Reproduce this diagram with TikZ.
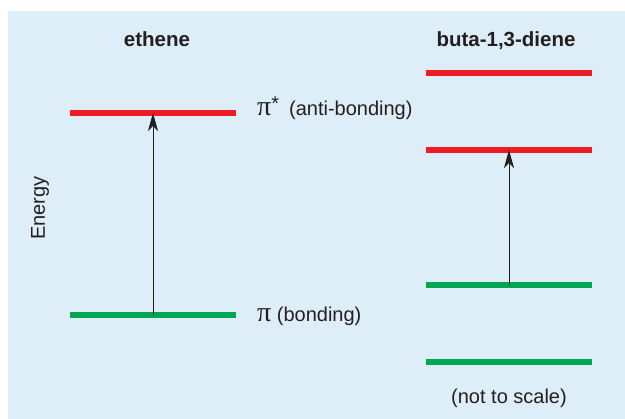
\documentclass[tikz,border=0pt]{standalone}
\usepackage{fontspec}
\setmainfont{Liberation Sans}
\newfontfamily\pifont{Liberation Serif}
\usepackage{tikz}
\usetikzlibrary{arrows.meta, positioning}

\definecolor{panel}{RGB}{222,238,248}
\definecolor{levred}{RGB}{237,28,36}
\definecolor{levgreen}{RGB}{0,166,81}
\definecolor{ink}{RGB}{35,31,32}

\newcommand{\bigpi}{{\pifont\fontsize{28}{28}\selectfont π}}

\tikzset{
  orbital/.style={minimum width=166pt, minimum height=5.5pt, inner sep=0pt, outer sep=0pt},
  label text/.style={text=ink, inner sep=0pt, font=\fontsize{20}{24}\selectfont},
  title text/.style={label text, font=\fontsize{20.5}{24}\selectfont\bfseries, anchor=base},
  excite/.style={draw=ink, line width=0.8pt, -{Stealth[length=18pt, width=10pt, inset=5pt]}}
}

\begin{document}
\begin{tikzpicture}[x=1pt, y=1pt]
    \useasboundingbox (0,0) rectangle (625,419);
    \fill[panel] (8,0) rectangle (625,408);
    % ethene
    \node[title text] (ethene) at (157,372) {ethene};
    \node[orbital, fill=levred] (pistar) at (153,306) {};
    \node[orbital, fill=levgreen] (pi) at (153,104) {};
    \draw[excite] (pi.center) -- (pistar.center);
    \node[label text, anchor=base west] (pistarlbl) at (257,303) {\bigpi\raisebox{5pt}{*}\hspace{10pt}(anti-bonding)};
    \node[label text, anchor=base west] (pilbl) at (257,97.5) {\bigpi\ (bonding)};
    \node[label text, rotate=90] (energy) at (40,211) {Energy};
    % buta-1,3-diene
    \node[title text] (diene) at (506,372) {buta-1,3-diene};
    \foreach \y/\c/\n in {346/levred/d4, 269/levred/d3, 134/levgreen/d2, 57/levgreen/d1} {
      \node[orbital, fill=\c] (\n) at (509,\y) {};
    }
    \draw[excite] (d2.center) -- (d3.center);
    \node[label text, anchor=base] (scale) at (509,15) {(not to scale)};
\end{tikzpicture}
\end{document}
